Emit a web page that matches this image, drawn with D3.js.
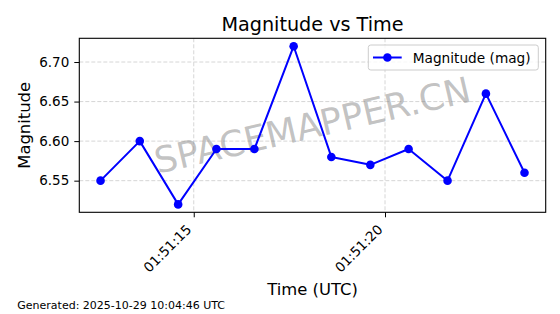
<!DOCTYPE html>
<html>
<head>
<meta charset="utf-8">
<script src="https://cdn.jsdelivr.net/npm/d3@7"></script>
<style>
  body { margin: 0; background: #fff; }
  text { font-family: "DejaVu Sans", sans-serif; }
</style>
</head>
<body>
<div id="chart"></div>
<script>
// donnees
var times = ["2025-10-29T01:51:12.563Z", "2025-10-29T01:51:13.589Z", "2025-10-29T01:51:14.592Z",
             "2025-10-29T01:51:15.593Z", "2025-10-29T01:51:16.586Z", "2025-10-29T01:51:17.612Z",
             "2025-10-29T01:51:18.597Z", "2025-10-29T01:51:19.616Z", "2025-10-29T01:51:20.617Z",
             "2025-10-29T01:51:21.635Z", "2025-10-29T01:51:22.638Z", "2025-10-29T01:51:23.647Z"];
var magnitudes = [6.55, 6.60, 6.52, 6.59, 6.59, 6.72, 6.58, 6.57, 6.59, 6.55, 6.66, 6.56];
var yTicks = [6.55, 6.60, 6.65, 6.70];
var seriesName = "Magnitude (mag)";
var footer = "Generated: 2025-10-29 10:04:46 UTC";

var W = 560, H = 314;
// zone du graphe (attention: "top" est deja pris par window.top)
var pLeft = 79.3, pRight = 545.7, pTop = 38.3, pBottom = 212.3;

var data = times.map((t, i) => ({t: d3.isoParse(t), v: magnitudes[i]}));

var svg = d3.select("#chart")
  .append("svg")
  .attr("width", W)
  .attr("height", H);

// marges de 5% comme matplotlib
var tExt = d3.extent(data, d => d.t);
var tPad = (tExt[1] - tExt[0]) * 0.05;
var x = d3.scaleUtc()
  .domain([new Date(+tExt[0] - tPad), new Date(+tExt[1] + tPad)])
  .range([pLeft, pRight]);

var vExt = d3.extent(data, d => d.v);
var vPad = (vExt[1] - vExt[0]) * 0.05;
var y = d3.scaleLinear()
  .domain([vExt[0] - vPad, vExt[1] + vPad])
  .range([pBottom, pTop]);

var xTicks = x.ticks(d3.utcSecond.every(5));

// grille
var grid = svg.append("g")
  .attr("stroke", "#cccccc")
  .attr("stroke-width", 0.8)
  .attr("stroke-dasharray", "4,2");
grid.selectAll(".gx")
  .data(xTicks)
  .enter()
  .append("line")
    .attr("x1", d => x(d)).attr("x2", d => x(d))
    .attr("y1", pTop).attr("y2", pBottom);
grid.selectAll(".gy")
  .data(yTicks)
  .enter()
  .append("line")
    .attr("x1", pLeft).attr("x2", pRight)
    .attr("y1", d => y(d)).attr("y2", d => y(d));

// filigrane
svg.append("text")
  .attr("transform", `translate(${(pLeft + pRight) / 2},${(pTop + pBottom) / 2}) rotate(-13)`)
  .attr("text-anchor", "middle")
  .attr("dominant-baseline", "central")
  .attr("font-size", 36)
  .attr("fill", "#808080")
  .attr("fill-opacity", 0.48)
  .text("SPACEMAPPER.CN");

// serie
svg.append("path")
  .datum(data)
  .attr("fill", "none")
  .attr("stroke", "#0000ff")
  .attr("stroke-width", 2)
  .attr("stroke-linejoin", "round")
  .attr("d", d3.line().x(d => x(d.t)).y(d => y(d.v)));

svg.append("g")
  .selectAll("circle")
  .data(data)
  .enter()
  .append("circle")
    .attr("cx", d => x(d.t))
    .attr("cy", d => y(d.v))
    .attr("r", 4.3)
    .attr("fill", "#0000ff");

// axes
var xAxis = svg.append("g")
  .attr("transform", `translate(0,${pBottom})`)
  .call(d3.axisBottom(x).tickValues(xTicks).tickFormat(d3.utcFormat("%H:%M:%S")).tickSize(5).tickPadding(0));
xAxis.select(".domain").remove();
xAxis.selectAll("text")
  .attr("font-size", 13.5)
  .attr("fill", "#000")
  .attr("text-anchor", "end")
  .attr("dy", null)
  .attr("y", null)
  .attr("transform", "translate(-2,18) rotate(-45)");

var yAxis = svg.append("g")
  .attr("transform", `translate(${pLeft},0)`)
  .call(d3.axisLeft(y).tickValues(yTicks).tickFormat(d3.format(".2f")).tickSize(5).tickPadding(5));
yAxis.select(".domain").remove();
yAxis.selectAll("text")
  .attr("font-size", 13.5)
  .attr("fill", "#000");

svg.append("rect")
  .attr("x", pLeft).attr("y", pTop)
  .attr("width", pRight - pLeft).attr("height", pBottom - pTop)
  .attr("fill", "none")
  .attr("stroke", "#000")
  .attr("stroke-width", 1.1);

// legende
var leg = svg.append("g");
leg.append("rect")
  .attr("x", 368.3).attr("y", 45)
  .attr("width", 170).attr("height", 25)
  .attr("rx", 2.5)
  .attr("fill", "#fff").attr("fill-opacity", 0.8)
  .attr("stroke", "#cccccc");
leg.append("line")
  .attr("x1", 373).attr("x2", 401.7)
  .attr("y1", 57.5).attr("y2", 57.5)
  .attr("stroke", "#0000ff").attr("stroke-width", 2);
leg.append("circle")
  .attr("cx", 387.4).attr("cy", 57.5).attr("r", 4.3)
  .attr("fill", "#0000ff");
leg.append("text")
  .attr("x", 412.7).attr("y", 57.5)
  .attr("dominant-baseline", "central")
  .attr("font-size", 13.7)
  .text(seriesName);

// titres
svg.append("text")
  .attr("x", (pLeft + pRight) / 2).attr("y", 31)
  .attr("text-anchor", "middle")
  .attr("font-size", 19.2)
  .text("Magnitude vs Time");

svg.append("text")
  .attr("x", (pLeft + pRight) / 2).attr("y", 295)
  .attr("text-anchor", "middle")
  .attr("font-size", 16.4)
  .text("Time (UTC)");

svg.append("text")
  .attr("transform", `translate(30.3,${(pTop + pBottom) / 2}) rotate(-90)`)
  .attr("text-anchor", "middle")
  .attr("font-size", 16.4)
  .text("Magnitude");

svg.append("text")
  .attr("x", 17.3).attr("y", 308.7)
  .attr("font-size", 11)
  .text(footer);
</script>
</body>
</html>
